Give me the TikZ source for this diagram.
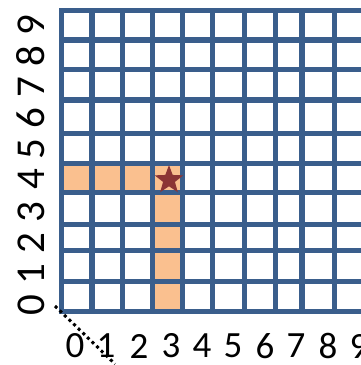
\documentclass[tikz,border=0pt]{standalone}
\usepackage{fontspec}
\setmainfont{Carlito}
\usetikzlibrary{shapes.geometric}
\definecolor{gridblue}{HTML}{3A5E8C}
\definecolor{cellorange}{HTML}{FAC08F}
\definecolor{starred}{HTML}{8B3535}
\tikzset{
  gridline/.style={draw=gridblue, line width=5.5pt, line cap=rect},
  hilite/.style={fill=cellorange},
  lbl/.style={font=\fontsize{37}{37}\selectfont, inner sep=0pt, text=black},
  lbly/.style={font=\fontsize{41}{41}\selectfont, inner sep=0pt, text=black, rotate=90},
  starmark/.style={star, star points=5, star point ratio=2.4, fill=starred, minimum size=30pt, inner sep=0pt}
}
\begin{document}
\begin{tikzpicture}[x=1pt,y=-1pt]
\useasboundingbox (0,0) rectangle (360,365);
\fill[white] (0,0) rectangle (360,365);
% highlighted cells
\fill[hilite] (61.5,163.5) rectangle (182.5,192.5);
\fill[hilite] (152.5,163.5) rectangle (182.5,311.5);
% grid
\foreach \x in {61.5,92,122.5,152.5,182.5,212.5,244.5,275.5,302,334.5}
  \draw[gridline] (\x,10.5) -- (\x,311.5);
\foreach \y in {10.5,40,69.5,100,133.5,163.5,192.5,224.5,250.5,281.5,311.5}
  \draw[gridline] (61.5,\y) -- (362,\y);
% star
\node[starmark] (goal) at (169,180) {};
% dotted axis
\coordinate (d0) at (55,306);
\coordinate (d1) at (115,364);
\draw[black, line width=3pt, dash pattern=on 3pt off 3.4pt] (d0) -- (d1);
% bottom labels
\foreach \i/\x in {0/75,1/106,2/139,3/171,4/202,5/233,6/265,7/296,8/328,9/359}
  \node[lbl] (bx\i) at (\x,346) {\i};
% left labels
\foreach \i/\y in {0/305,1/274,2/243,3/212,4/179,5/149,6/118,7/87,8/56,9/25}
  \node[lbly] (ly\i) at (31,\y) {\i};
\end{tikzpicture}
\end{document}
